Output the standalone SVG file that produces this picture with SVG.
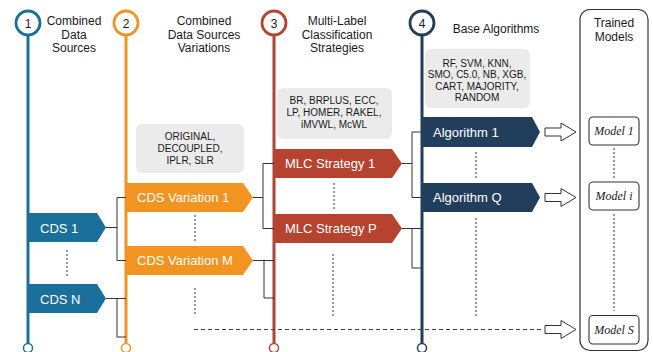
<svg xmlns="http://www.w3.org/2000/svg" width="653" height="352" viewBox="0 0 653 352">
<style>
.title{font-family:"Liberation Sans",Arial,sans-serif;font-size:12px;fill:#1a1a1a;text-anchor:middle}
.num{font-family:"Liberation Sans",Arial,sans-serif;font-size:12px;fill:#1a1a1a;text-anchor:middle}
.tag{font-family:"Liberation Sans",Arial,sans-serif;font-size:13px;fill:#ffffff}
.note{font-family:"Liberation Sans",Arial,sans-serif;font-size:10px;fill:#1a1a1a;text-anchor:middle}
.notebox{fill:#ebebeb}
.model{font-family:"Liberation Serif","Times New Roman",serif;font-size:12px;font-style:italic;fill:#1a1a1a;text-anchor:middle}
.mbox{fill:#ffffff;stroke:#333;stroke-width:1.1}
.conn{fill:none;stroke:#333;stroke-width:1}
.dot{fill:none;stroke:#555;stroke-width:1.2;stroke-dasharray:2 2}
.dash{fill:none;stroke:#444;stroke-width:1.1;stroke-dasharray:4 3}
.harrow{fill:#fff;stroke:#333;stroke-width:1}
</style>

<g id="stage1">
  <line x1="28" y1="35" x2="28" y2="344" stroke="#1a6f9b" stroke-width="3"/>
  <circle cx="28" cy="23" r="12" fill="#fff" stroke="#1a6f9b" stroke-width="2.8"/>
  <text class="num" x="28" y="27.5">1</text>
  <circle cx="28" cy="348" r="4.5" fill="#fff" stroke="#1a6f9b" stroke-width="1.5"/>
  <text class="title" x="74" y="25">Combined</text>
  <text class="title" x="74" y="38.5">Data</text>
  <text class="title" x="74" y="52">Sources</text>
</g>
<g id="stage2">
  <line x1="126" y1="35" x2="126" y2="344" stroke="#f29420" stroke-width="3"/>
  <circle cx="126" cy="23" r="12" fill="#fff" stroke="#f29420" stroke-width="2.8"/>
  <text class="num" x="126" y="27.5">2</text>
  <circle cx="126" cy="348" r="4.5" fill="#fff" stroke="#f29420" stroke-width="1.5"/>
  <text class="title" x="204" y="25">Combined</text>
  <text class="title" x="204" y="38.5">Data Sources</text>
  <text class="title" x="204" y="52">Variations</text>
</g>
<g id="stage3">
  <line x1="274" y1="35" x2="274" y2="344" stroke="#b5432f" stroke-width="3"/>
  <circle cx="274" cy="23" r="12" fill="#fff" stroke="#b5432f" stroke-width="2.8"/>
  <text class="num" x="274" y="27.5">3</text>
  <circle cx="274" cy="348" r="4.5" fill="#fff" stroke="#b5432f" stroke-width="1.5"/>
  <text class="title" x="337" y="25">Multi-Label</text>
  <text class="title" x="337" y="38.5">Classification</text>
  <text class="title" x="337" y="52">Strategies</text>
</g>
<g id="stage4">
  <line x1="422" y1="35" x2="422" y2="344" stroke="#213f5c" stroke-width="3"/>
  <circle cx="422" cy="23" r="12" fill="#fff" stroke="#213f5c" stroke-width="2.8"/>
  <text class="num" x="422" y="27.5">4</text>
  <circle cx="422" cy="348" r="4.5" fill="#fff" stroke="#213f5c" stroke-width="1.5"/>
  <text class="title" x="496" y="33">Base Algorithms</text>
</g>

<g id="note-cds">
  <rect class="notebox" x="136" y="124" width="108" height="49" rx="6"/>
  <text class="note" x="190" y="140">ORIGINAL,</text>
  <text class="note" x="190" y="152">DECOUPLED,</text>
  <text class="note" x="190" y="164">IPLR, SLR</text>
</g>
<g id="note-mlc">
  <rect class="notebox" x="277" y="88" width="115" height="51" rx="6"/>
  <text class="note" x="334" y="104">BR, BRPLUS, ECC,</text>
  <text class="note" x="334" y="116">LP, HOMER, RAKEL,</text>
  <text class="note" x="334" y="128">iMVWL, McWL</text>
</g>
<g id="note-alg">
  <rect class="notebox" x="425" y="49" width="105" height="59" rx="6"/>
  <text class="note" x="477" y="66.5">RF, SVM, KNN,</text>
  <text class="note" x="477" y="78">SMO, C5.0, NB, XGB,</text>
  <text class="note" x="477" y="89.5">CART, MAJORITY,</text>
  <text class="note" x="477" y="101">RANDOM</text>
</g>

<g id="cds1">
  <polygon points="28,213 97,213 106,227.5 97,242 28,242" fill="#1a6f9b"/>
  <text class="tag" x="40" y="232.5">CDS 1</text>
</g>
<g id="cdsN">
  <polygon points="28,284 97,284 106,298.5 97,313 28,313" fill="#1a6f9b"/>
  <text class="tag" x="40" y="303.5">CDS N</text>
</g>
<g id="cdsvar1">
  <polygon points="126,183 243,183 253,197.5 243,212 126,212" fill="#f29420"/>
  <text class="tag" x="137" y="202">CDS Variation 1</text>
</g>
<g id="cdsvarM">
  <polygon points="126,246 243,246 253,260.5 243,275 126,275" fill="#f29420"/>
  <text class="tag" x="137" y="265">CDS Variation M</text>
</g>
<g id="mlc1">
  <polygon points="274,149 392,149 402,163.5 392,178 274,178" fill="#b5432f"/>
  <text class="tag" x="285" y="168">MLC Strategy 1</text>
</g>
<g id="mlcP">
  <polygon points="274,214 392,214 402,228.5 392,243 274,243" fill="#b5432f"/>
  <text class="tag" x="285" y="233">MLC Strategy P</text>
</g>
<g id="alg1">
  <polygon points="422,117 532,117 540,132 532,147 422,147" fill="#213f5c"/>
  <text class="tag" x="433" y="136.5">Algorithm 1</text>
</g>
<g id="algQ">
  <polygon points="422,183 532,183 540,197.5 532,212 422,212" fill="#213f5c"/>
  <text class="tag" x="433" y="202">Algorithm Q</text>
</g>

<g id="trained-models">
  <rect x="580" y="9.5" width="68" height="341" rx="10" fill="none" stroke="#333" stroke-width="1.2"/>
  <text class="title" x="614" y="27">Trained</text>
  <text class="title" x="614" y="40.5">Models</text>
  <g id="model1">
    <rect class="mbox" x="589" y="117" width="50" height="28" rx="4"/>
    <text class="model" x="614" y="135">Model 1</text>
  </g>
  <g id="modeli">
    <rect class="mbox" x="589" y="182" width="50" height="28" rx="4"/>
    <text class="model" x="614" y="200">Model i</text>
  </g>
  <g id="modelS">
    <rect class="mbox" x="589" y="315.5" width="50" height="28.5" rx="4"/>
    <text class="model" x="614" y="334">Model S</text>
  </g>
  <line class="dot" x1="614" y1="148" x2="614" y2="179"/>
  <line class="dot" x1="614" y1="214" x2="614" y2="311"/>
</g>

<g id="connectors">
  <path class="conn" d="M106,227.5 H117 M117,197.5 V260.5 M117,197.5 H126 M117,260.5 H126"/>
  <path class="conn" d="M106,298.5 H126 M117,298.5 V337 H126"/>
  <path class="conn" d="M253,197.5 H263 M263,163.5 V228.5 M263,163.5 H274 M263,228.5 H274"/>
  <path class="conn" d="M253,260.5 H274 M264,260.5 V298 H274"/>
  <path class="conn" d="M402,163.5 H412 M412,132 V197.5 M412,132 H422 M412,197.5 H422"/>
  <path class="conn" d="M402,228.5 H422 M412,228.5 V268 H422"/>
  <line class="dot" x1="67" y1="250" x2="67" y2="278"/>
  <line class="dot" x1="195" y1="215" x2="195" y2="243"/>
  <line class="dot" x1="195" y1="288" x2="195" y2="316"/>
  <line class="dot" x1="334" y1="183" x2="334" y2="211"/>
  <line class="dot" x1="333" y1="254" x2="333" y2="316"/>
  <line class="dot" x1="476" y1="152" x2="476" y2="179"/>
  <line class="dot" x1="476" y1="218" x2="476" y2="316"/>
  <line class="dash" x1="194" y1="329.5" x2="544" y2="329.5"/>
  <polygon class="harrow" points="545,128 561,128 561,123 576,132 561,141 561,136 545,136"/>
  <polygon class="harrow" points="545,193.5 561,193.5 561,188.5 576,197.5 561,206.5 561,201.5 545,201.5"/>
  <polygon class="harrow" points="545,325.5 561,325.5 561,320.5 576,329.5 561,338.5 561,333.5 545,333.5"/>
</g>
</svg>
